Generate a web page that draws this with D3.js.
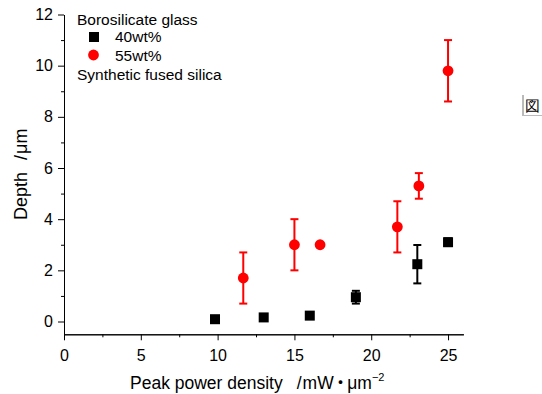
<!DOCTYPE html>
<html><head><meta charset="utf-8">
<script src="https://cdn.jsdelivr.net/npm/d3@7"></script>
<style>body{margin:0;background:#fff}svg{display:block}text{font-family:Arial,"Liberation Sans",sans-serif}</style>
</head><body><svg id="c" width="542" height="394"></svg>
<script>
const xTicks = [0,5,10,15,20,25];
const yTicks = [0,2,4,6,8,10,12];
const blackX = [9.83,13.0,16.0,19.0,23.0,25.0];
const blackY = [0.09,0.16,0.23,0.95,2.24,3.1];
const blackErr = [0.05,0.05,0.08,0.25,0.75,0.15];
const redX = [11.67,15.0,16.67,21.7,23.1,25.0];
const redY = [1.7,3.0,3.0,3.7,5.3,9.8];
const redErr = [1.0,1.0,0,1.0,0.5,1.2];
const legendLabels = ["Borosilicate glass","40wt%","55wt%","Synthetic fused silica"];

const svg = d3.select("#c");
const x = d3.scaleLinear().domain([0,26]).range([64,463.4]);
const y = d3.scaleLinear().domain([-0.5,12]).range([334.3,14.5]);

// axes
const xAxis = d3.axisBottom(x).tickValues(xTicks).tickSize(6).tickSizeOuter(0).tickPadding(9);
const xMinor = d3.axisBottom(x).tickValues(d3.range(2.5,26,5)).tickSize(3).tickFormat("").tickSizeOuter(0);
const yAxis = d3.axisLeft(y).tickValues(yTicks).tickSize(6).tickSizeOuter(0).tickPadding(5);
const yMinor = d3.axisLeft(y).tickValues(d3.range(1,12,2)).tickSize(3).tickFormat("").tickSizeOuter(0);
svg.append("g").attr("transform",`translate(0,${y(-0.5)})`).call(xAxis);
svg.append("g").attr("transform",`translate(0,${y(-0.5)})`).call(xMinor);
svg.append("g").attr("transform",`translate(${x(0)},0)`).call(yAxis);
svg.append("g").attr("transform",`translate(${x(0)},0)`).call(yMinor);
svg.selectAll(".domain").attr("stroke","#000").attr("stroke-width",1);
svg.selectAll(".tick line").attr("stroke","#000");
svg.selectAll(".tick text").attr("font-size",16).attr("fill","#000").attr("font-family","Arial, 'Liberation Sans', sans-serif");

// titles
const xt = svg.append("text").attr("x",130).attr("y",388.5).attr("font-size",17.5);
xt.append("tspan").text("Peak power density");
xt.append("tspan").attr("dx",14).text("/");
xt.append("tspan").attr("dx",1).text("mW");
xt.append("tspan").attr("font-family","'Noto Sans CJK JP'").attr("dx",-2).text("・");
xt.append("tspan").attr("dx",-2).text("μm");
xt.append("tspan").attr("dy",-8).attr("font-size",11).text("−2");

const yt = svg.append("text").attr("transform",`translate(27,220) rotate(-90)`).attr("font-size",18);
yt.append("tspan").text("Depth");
yt.append("tspan").attr("dx",12).text("/");
yt.append("tspan").attr("dx",1).text("μm");

function errBars(xs, ys, es, color){
  const g = svg.append("g").attr("stroke",color).attr("stroke-width",2);
  xs.forEach((xv,i)=>{
    if(!es[i]) return;
    const x0=x(xv), y1=y(ys[i]+es[i]), y2=y(ys[i]-es[i]);
    g.append("line").attr("x1",x0).attr("x2",x0).attr("y1",y1).attr("y2",y2);
    g.append("line").attr("x1",x0-4).attr("x2",x0+4).attr("y1",y1).attr("y2",y1);
    g.append("line").attr("x1",x0-4).attr("x2",x0+4).attr("y1",y2).attr("y2",y2);
  });
}
errBars(blackX, blackY, blackErr, "#000");
errBars(redX, redY, redErr, "#ff0000");

svg.append("g").selectAll("rect").data(blackX).join("rect")
  .attr("x",(d)=>x(d)-5).attr("y",(d,i)=>y(blackY[i])-5).attr("width",10).attr("height",10).attr("fill","#000");
svg.append("g").selectAll("circle").data(redX).join("circle")
  .attr("cx",d=>x(d)).attr("cy",(d,i)=>y(redY[i])).attr("r",5.4).attr("fill","#ff0000");

// legend
const lg = svg.append("g").attr("font-size",15.5);
lg.append("text").attr("x",77).attr("y",25).text(legendLabels[0]);
lg.append("rect").attr("x",89).attr("y",32).attr("width",10).attr("height",10).attr("fill","#000");
lg.append("text").attr("x",115).attr("y",42).text(legendLabels[1]);
lg.append("circle").attr("cx",93.5).attr("cy",55).attr("r",5.4).attr("fill","#ff0000");
lg.append("text").attr("x",115).attr("y",61).text(legendLabels[2]);
lg.append("text").attr("x",77).attr("y",80).text(legendLabels[3]);

// broken image placeholder
svg.append("line").attr("x1",523).attr("x2",523).attr("y1",95).attr("y2",116).attr("stroke","#777");
svg.append("line").attr("x1",523).attr("x2",542).attr("y1",115.5).attr("y2",115.5).attr("stroke","#bbb");
svg.append("text").attr("x",525).attr("y",111).attr("font-size",15).attr("font-family","'Noto Sans CJK JP'").text("図");
</script></body></html>
